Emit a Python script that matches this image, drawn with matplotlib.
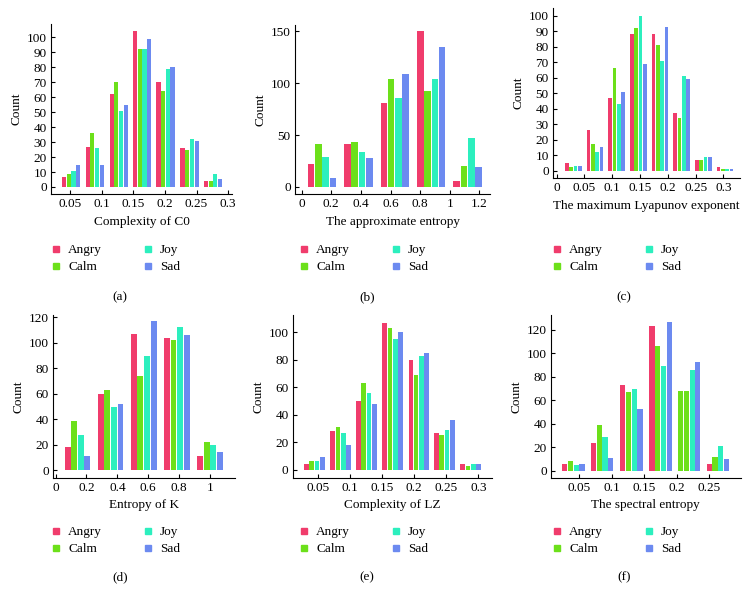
import numpy as np
import matplotlib
matplotlib.use('Agg')
import matplotlib.pyplot as plt
from matplotlib.lines import Line2D
from matplotlib.ticker import FormatStrFormatter

plt.rcParams['font.family'] = ['Liberation Serif', 'DejaVu Serif']
plt.rcParams['font.size'] = 9.5

emotions = ['Angry', 'Calm', 'Joy', 'Sad']
colors = ['#F03C6C', '#6CE01A', '#2CEFBE', '#6C8AF0']

# (a) Complexity of C0
c0_x = [0.052, 0.089, 0.127, 0.164, 0.201, 0.239, 0.276]
c0_angry = [7, 27, 62, 104, 70, 26, 4]
c0_calm = [9, 36, 70, 92, 64, 25, 4]
c0_joy = [11, 26, 51, 92, 79, 32, 9]
c0_sad = [15, 15, 55, 99, 80, 31, 5]

# (b) approximate entropy
ae_x = [0.137, 0.383, 0.629, 0.875, 1.121]
ae_angry = [22, 41, 81, 150, 6]
ae_calm = [41, 43, 104, 92, 20]
ae_joy = [29, 34, 86, 104, 47]
ae_sad = [9, 28, 109, 135, 19]

# (c) maximum Lyapunov exponent
ly_x = [0.030, 0.069, 0.108, 0.147, 0.186, 0.225, 0.264, 0.303]
ly_angry = [5, 26, 47, 88, 88, 37, 7, 2]
ly_calm = [2, 17, 66, 92, 81, 34, 7, 1]
ly_joy = [3, 12, 43, 100, 71, 61, 9, 1]
ly_sad = [3, 15, 51, 69, 93, 59, 9, 1]

# (d) Entropy of K
k_x = [0.142, 0.356, 0.571, 0.785, 1.0]
k_angry = [18, 60, 107, 104, 11]
k_calm = [39, 63, 74, 102, 22]
k_joy = [28, 50, 90, 112, 20]
k_sad = [11, 52, 117, 106, 14]

# (e) Complexity of LZ
lz_x = [0.044, 0.085, 0.125, 0.166, 0.207, 0.247, 0.288]
lz_angry = [4, 28, 50, 107, 80, 27, 4]
lz_calm = [6, 31, 63, 103, 69, 25, 3]
lz_joy = [6, 27, 56, 95, 83, 29, 4]
lz_sad = [9, 18, 48, 100, 85, 36, 4]

# (f) spectral entropy
se_x = [0.041, 0.085, 0.130, 0.175, 0.219, 0.263]
se_angry = [6, 24, 73, 123, 68, 6]
se_calm = [8, 39, 67, 106, 68, 12]
se_joy = [5, 29, 70, 89, 86, 21]
se_sad = [6, 11, 53, 127, 93, 10]

W, H = 752, 603
fig = plt.figure(figsize=(W / 100, H / 100), dpi=100)


def px_axes(x0, y0, x1, y1):
    return fig.add_axes([x0 / W, 1 - y1 / H, (x1 - x0) / W, (y1 - y0) / H])


def panel(rect, xs, series, xlim, ylim, xticks, yticks, xlabel, tag,
          leg_xy, tag_xy, xlabel_pad=4, fmt='%g', angry_colors=None):
    ax = px_axes(*rect)
    xs = np.array(xs)
    s = xs[1] - xs[0]
    for i, vals in enumerate(series):
        c = colors[i]
        if i == 0 and angry_colors is not None:
            c = angry_colors
        ax.bar(xs + (i - 1.5) * 0.2 * s, vals, width=0.18 * s, color=c,
               linewidth=0)
    ax.set_xlim(*xlim)
    ax.set_ylim(*ylim)
    ax.set_xticks(xticks)
    ax.set_yticks(yticks)
    ax.xaxis.set_major_formatter(FormatStrFormatter(fmt))
    ax.tick_params(direction='in', length=3, width=0.8, pad=3)
    for sp in ['top', 'right']:
        ax.spines[sp].set_visible(False)
    for sp in ['left', 'bottom']:
        ax.spines[sp].set_linewidth(0.8)
    ax.set_xlabel(xlabel, labelpad=xlabel_pad)
    ax.set_ylabel('Count', labelpad=3)
    handles = [Line2D([], [], marker='s', linestyle='none', markersize=4.5,
                      color=c) for c in colors]
    fig.legend(handles, emotions, loc='upper left', ncol=2, frameon=False,
               bbox_to_anchor=(leg_xy[0] / W, 1 - leg_xy[1] / H),
               borderpad=0, borderaxespad=0, handlelength=0.8,
               handletextpad=0.5, columnspacing=3.1, labelspacing=0.38,
               fontsize=9.5)
    fig.text(tag_xy[0] / W, 1 - tag_xy[1] / H, tag, ha='center',
             va='center', fontsize=9.5)
    return ax


panel((51, 24, 232, 194), c0_x, [c0_angry, c0_calm, c0_joy, c0_sad],
      (0.02, 0.306), (-4.7, 109), [0.05, 0.1, 0.15, 0.2, 0.25, 0.3],
      range(0, 101, 10), 'Complexity of C0', '(a)', (51, 244), (120, 297))

panel((295, 25, 490, 194), ae_x, [ae_angry, ae_calm, ae_joy, ae_sad],
      (-0.045, 1.272), (-6.8, 156), [0, 0.2, 0.4, 0.6, 0.8, 1, 1.2],
      [0, 50, 100, 150], 'The approximate entropy', '(b)', (299, 244),
      (367, 297))

panel((553, 8, 740, 178), ly_x, [ly_angry, ly_calm, ly_joy, ly_sad],
      (-0.0067, 0.33), (-4.8, 105), [0, 0.05, 0.1, 0.15, 0.2, 0.25, 0.3],
      range(0, 101, 10), 'The maximum Lyapunov exponent', '(c)', (552, 244),
      (624, 297))

panel((53, 315, 235, 477.7), k_x, [k_angry, k_calm, k_joy, k_sad],
      (-0.017, 1.162), (-5.8, 121.8), [0, 0.2, 0.4, 0.6, 0.8, 1],
      range(0, 121, 20), 'Entropy of K', '(d)', (51, 526), (120, 577))

panel((292.7, 315, 491.7, 477.7), lz_x, [lz_angry, lz_calm, lz_joy, lz_sad],
      (0.01, 0.321), (-5.8, 112.6), [0.05, 0.1, 0.15, 0.2, 0.25, 0.3],
      range(0, 101, 20), 'Complexity of LZ', '(e)', (299, 526), (367, 577))

se_angry_colors = [colors[0]] * 4 + [colors[1]] + [colors[0]]
panel((551, 315, 740.7, 477.7), se_x, [se_angry, se_calm, se_joy, se_sad],
      (0.0065, 0.298), (-5.8, 132.7), [0.05, 0.1, 0.15, 0.2, 0.25],
      range(0, 121, 20), 'The spectral entropy', '(f)', (552, 526),
      (624, 577), angry_colors=se_angry_colors)

fig.savefig('out.png', dpi=100)
